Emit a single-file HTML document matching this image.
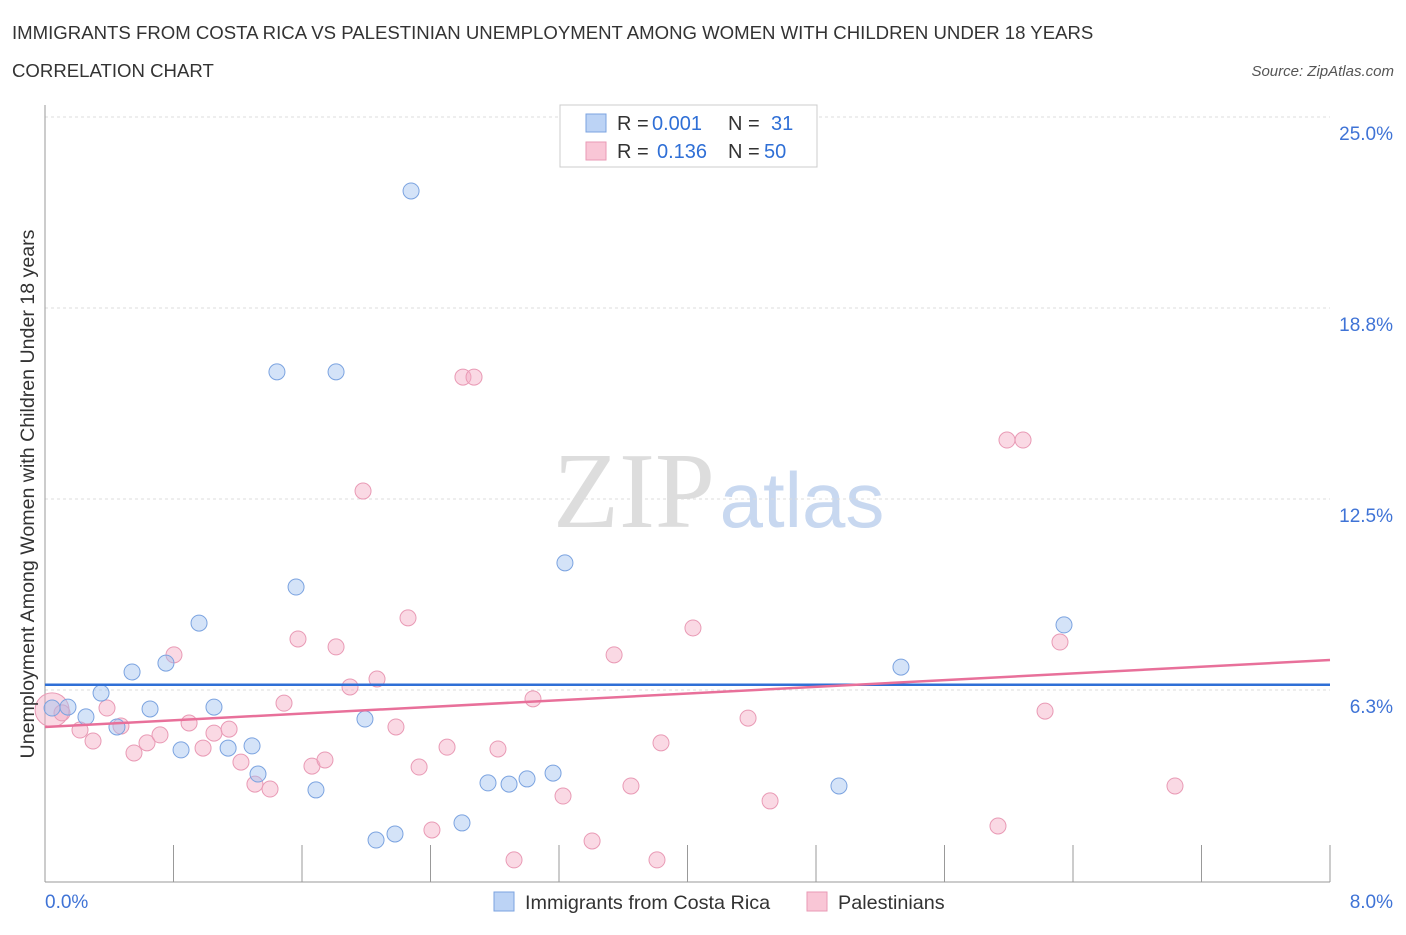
<!DOCTYPE html>
<html><head><meta charset="utf-8"><style>
body{margin:0;background:#fff;font-family:"Liberation Sans",sans-serif;}
</style></head><body>
<svg id="chart" width="1406" height="930" xmlns="http://www.w3.org/2000/svg" font-family="Liberation Sans, sans-serif">
<text x="12" y="39" font-size="18.6" fill="#333">IMMIGRANTS FROM COSTA RICA VS PALESTINIAN UNEMPLOYMENT AMONG WOMEN WITH CHILDREN UNDER 18 YEARS</text>
<text x="12" y="77" font-size="18.6" fill="#333">CORRELATION CHART</text>
<text x="1394" y="76" font-size="15" fill="#555" font-style="italic" text-anchor="end">Source: ZipAtlas.com</text>
<g>
<text x="634" y="527" font-size="108" fill="#ddd" font-family="Liberation Serif, serif" text-anchor="middle">ZIP</text>
<text x="802" y="527" font-size="78" fill="#c8d8f0" text-anchor="middle">atlas</text>
</g>
<g id="grid"></g>
<g id="axes"></g>
<g id="marks"></g>
<text transform="translate(34,494) rotate(-90)" font-size="19.6" fill="#333" text-anchor="middle">Unemployment Among Women with Children Under 18 years</text>
<g>
<rect x="560" y="105" width="257" height="62" fill="#fff" stroke="#ccc"/>
<rect x="586" y="114" width="20" height="18" fill="#bcd3f5" stroke="#7ba3e0"/>
<rect x="586" y="142" width="20" height="18" fill="#f9c6d6" stroke="#e99ab5"/>
<text y="130" font-size="20" fill="#333"><tspan x="617">R =</tspan><tspan x="652" fill="#2f6fd6">0.001</tspan><tspan x="728">N =</tspan><tspan x="771" fill="#2f6fd6">31</tspan></text>
<text y="158" font-size="20" fill="#333"><tspan x="617">R =</tspan><tspan x="657" fill="#2f6fd6">0.136</tspan><tspan x="728">N =</tspan><tspan x="764" fill="#2f6fd6">50</tspan></text>
</g>
<g>
<rect x="494" y="892" width="20" height="19" fill="#bcd3f5" stroke="#7ba3e0"/>
<text x="525" y="909" font-size="19.8" fill="#333">Immigrants from Costa Rica</text>
<rect x="807" y="892" width="20" height="19" fill="#f9c6d6" stroke="#e99ab5"/>
<text x="838" y="909" font-size="19.8" fill="#333">Palestinians</text>
</g>
</svg>
<script>
const xTicks=[0,0.8,1.6,2.4,3.2,4,4.8,5.6,6.4,7.2,8];
const yTicks=[6.25,12.5,18.75,25];
const yTickLabels=["6.3%","12.5%","18.8%","25.0%"];
const xEndLabels=["0.0%","8.0%"];
const blueX=[0.044,0.143,0.255,0.349,0.448,0.542,0.654,0.753,0.847,0.959,1.052,1.140,1.289,1.326,1.444,1.563,1.687,1.812,1.992,2.061,2.179,2.279,2.596,2.758,2.889,3.001,3.163,3.237,4.943,5.329,6.344];
const blueY=[5.66,5.69,5.37,6.15,5.04,6.84,5.63,7.13,4.29,8.44,5.69,4.35,4.42,3.50,16.66,9.62,2.98,16.66,5.30,1.34,1.54,22.58,1.90,3.21,3.17,3.34,3.53,10.41,3.11,7.00,8.38];
const pinkX=[0.044,0.106,0.218,0.299,0.386,0.473,0.554,0.635,0.716,0.803,0.897,0.984,1.052,1.146,1.220,1.307,1.401,1.488,1.575,1.662,1.743,1.812,1.899,1.980,2.067,2.185,2.260,2.329,2.409,2.503,2.602,2.671,2.820,2.920,3.038,3.225,3.406,3.543,3.648,3.810,3.835,4.034,4.377,4.514,5.933,5.989,6.089,6.226,6.319,7.035];
const pinkY=[5.60,5.50,4.94,4.58,5.66,5.07,4.19,4.52,4.78,7.40,5.17,4.35,4.84,4.97,3.89,3.17,3.01,5.82,7.92,3.76,3.96,7.66,6.35,12.76,6.61,5.04,8.61,3.73,1.67,4.38,16.49,16.49,4.32,0.69,5.96,2.78,1.31,7.40,3.11,0.69,4.52,8.28,5.33,2.62,1.80,14.43,14.43,5.56,7.82,3.11];
const blueTrend=[6.42,6.42];
const pinkTrend=[5.04,7.23];
const NS="http://www.w3.org/2000/svg";
const X=v=>45+v/8*1285;
const Y=v=>881-v*30.56;
function mk(tag,attrs,parent){const e=document.createElementNS(NS,tag);for(const k in attrs)e.setAttribute(k,attrs[k]);document.getElementById(parent).appendChild(e);return e;}
yTicks.forEach((t,i)=>{
 const g=mk('line',{x1:45,x2:1330,y1:Y(t),y2:Y(t),stroke:'#ddd','stroke-dasharray':'3,3'},'grid');
 
 
 const l=mk('text',{x:1393,y:Y(t)+23,'font-size':19,fill:'#3f73d6','text-anchor':'end'},'axes');
 l.textContent=yTickLabels[i];
 
 
});
const ya=mk('line',{x1:45,x2:45,y1:105,y2:882,stroke:'#999'},'axes');


const xa=mk('line',{x1:45,x2:1330,y1:882,y2:882,stroke:'#999'},'axes');


xTicks.forEach(t=>{
 const tk=mk('line',{x1:X(t),x2:X(t),y1:845,y2:882,stroke:'#999'},'axes');
 
 
});
const xl0=mk('text',{x:45,y:908,'font-size':19,fill:'#3f73d6'},'axes');xl0.textContent=xEndLabels[0];


const xl1=mk('text',{x:1393,y:908,'font-size':19,fill:'#3f73d6','text-anchor':'end'},'axes');xl1.textContent=xEndLabels[1];


pinkX.forEach((x,i)=>{
 const c=mk('circle',{cx:X(x),cy:Y(pinkY[i]),r:i===0?17:8,fill:'rgba(245,170,195,0.45)',stroke:'#e99ab5','stroke-width':1},'marks');
 
 
});
blueX.forEach((x,i)=>{
 const c=mk('circle',{cx:X(x),cy:Y(blueY[i]),r:8,fill:'rgba(160,192,240,0.45)',stroke:'#7ba3e0','stroke-width':1},'marks');
 
 
});
const bl=mk('line',{x1:X(0),x2:X(8),y1:Y(blueTrend[0]),y2:Y(blueTrend[1]),stroke:'#2f6fd6','stroke-width':2.5},'marks');


const pl=mk('line',{x1:X(0),x2:X(8),y1:Y(pinkTrend[0]),y2:Y(pinkTrend[1]),stroke:'#e8709a','stroke-width':2.5},'marks');


</script>
</body></html>
